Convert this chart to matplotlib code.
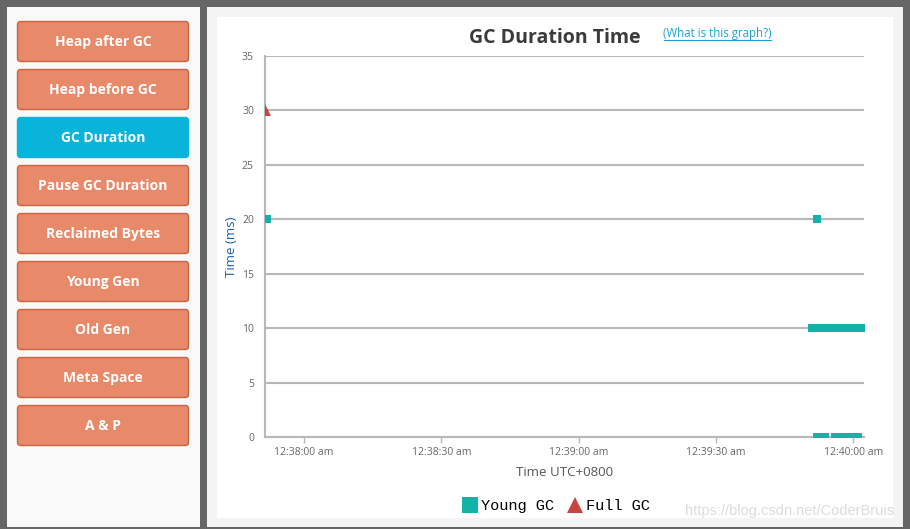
import matplotlib
matplotlib.use("Agg")
import matplotlib.pyplot as plt
import matplotlib.dates as mdates
import matplotlib.ticker as ticker
from matplotlib.patches import FancyBboxPatch, Rectangle
from matplotlib.lines import Line2D
import pandas as pd

# menu on the left
menu_items = ["Heap after GC", "Heap before GC", "GC Duration", "Pause GC Duration",
              "Reclaimed Bytes", "Young Gen", "Old Gen", "Meta Space", "A & P"]
active_item = "GC Duration"

# GC events (time of day, duration in ms)
young_times = ["00:37:52.0", "00:39:52.0",
               "00:39:51.0", "00:39:52.0", "00:39:53.0", "00:39:54.0", "00:39:55.0", "00:39:56.0",
               "00:39:57.0", "00:39:58.0", "00:39:59.0", "00:40:00.0", "00:40:01.0", "00:40:02.0",
               "00:39:52.0", "00:39:53.0", "00:39:53.7", "00:39:56.0", "00:39:57.0", "00:39:58.0",
               "00:39:59.0", "00:40:00.0", "00:40:01.0"]
young_ms = [20, 20,
            10, 10, 10, 10, 10, 10, 10, 10, 10, 10, 10, 10,
            0, 0, 0, 0, 0, 0, 0, 0, 0]
full_times = ["00:37:51.5"]
full_ms = [30]

x_range = ["00:37:51.5", "00:40:02.3"]
x_ticks = ["00:38:00", "00:38:30", "00:39:00", "00:39:30", "00:40:00"]
y_ticks = [0, 5, 10, 15, 20, 25, 30, 35]

young_color = "#14b1a6"
full_color = "#c9453d"
grid_color = "#b8b8b8"


def to_dt(values):
    return pd.to_datetime(["2020-01-01 " + v for v in values])


W, H = 910, 529
fig = plt.figure(figsize=(W / 100, H / 100), dpi=100)
fig.patch.set_facecolor("#666666")

# background layer in pixel coordinates
bg = fig.add_axes([0, 0, 1, 1], zorder=0)
bg.set_xlim(0, W)
bg.set_ylim(H, 0)
bg.axis("off")
bg.add_patch(Rectangle((7, 7), 193, 520, facecolor="#f9f9f9", edgecolor="none"))
bg.add_patch(Rectangle((207, 7), 696, 520, facecolor="#f4f4f4", edgecolor="none"))
bg.add_patch(Rectangle((217, 17), 676, 501, facecolor="white", edgecolor="none"))

for i, item in enumerate(menu_items):
    top = 21 + i * 48
    is_active = item == active_item
    face = "#0ab3da" if is_active else "#e8896a"
    edge = "#0ab3da" if is_active else "#c9653f"
    bg.add_patch(FancyBboxPatch((17.5, top + 0.5), 171, 40, boxstyle="round,pad=0,rounding_size=3",
                                facecolor=face, edgecolor=edge, linewidth=1))
    bg.text(103, top + 21, item, ha="center", va="center", color="white",
            fontsize=10, fontweight="bold", family="Open Sans")

# title and link
bg.text(555, 38, "GC Duration Time", ha="center", va="center", fontsize=14,
        fontweight="bold", color="#3a3a3a", family="Open Sans")
bg.text(717, 33, "(What is this graph?)", ha="center", va="center", fontsize=8.3,
        color="#1aa3d6", family="Open Sans")
bg.plot([664, 771], [40, 40], color="#1aa3d6", lw=0.8)

# watermark
bg.text(790, 511, "https://blog.csdn.net/CoderBruis", ha="center", va="center",
        fontsize=10.5, color="#dcdcdc", family="Liberation Sans")

# chart
ax = fig.add_axes([265 / W, 1 - 437 / H, 599 / W, 381 / H], zorder=2)
ax.set_facecolor("none")

ax.plot(to_dt(young_times), young_ms, linestyle="none", marker="s", markersize=5.8,
        color=young_color, markeredgewidth=0, zorder=3)
ax.plot(to_dt(full_times), full_ms, linestyle="none", marker="^", markersize=9,
        color=full_color, markeredgewidth=0, zorder=3)

xr = to_dt(x_range)
ax.set_xlim(xr[0], xr[1])
ax.set_ylim(0, 35)
ax.set_yticks(y_ticks)
ax.set_xticks(mdates.date2num(to_dt(x_ticks)))
ax.xaxis.set_major_formatter(ticker.FuncFormatter(
    lambda v, pos: mdates.num2date(v).strftime("%I:%M:%S ").lstrip() + mdates.num2date(v).strftime("%p").lower()))

ax.grid(axis="y", color=grid_color, linewidth=1.5, zorder=1)
for side in ["top", "right"]:
    ax.spines[side].set_visible(False)
for side in ["left", "bottom"]:
    ax.spines[side].set_color(grid_color)
    ax.spines[side].set_linewidth(1.5)

ax.tick_params(axis="y", length=0, pad=8, labelsize=7.5, labelcolor="#666666")
ax.tick_params(axis="x", length=4, width=1, color=grid_color, pad=3, labelsize=7.5,
               labelcolor="#666666")
for lbl in ax.get_xticklabels() + ax.get_yticklabels():
    lbl.set_family("Open Sans")

ax.set_ylabel("Time (ms)", color="#1c5ea8", fontsize=9.5, family="Open Sans", labelpad=3)
ax.set_xlabel("Time UTC+0800", color="#555555", fontsize=9.5, family="Open Sans", labelpad=6)

handles = [
    Line2D([], [], linestyle="none", marker="s", markersize=11, color=young_color, markeredgewidth=0),
    Line2D([], [], linestyle="none", marker="^", markersize=12, color=full_color, markeredgewidth=0),
]
fig.legend(handles, ["Young GC", "Full GC"], loc="center", bbox_to_anchor=(557 / W, 1 - 506 / H),
           ncol=2, frameon=False, handlelength=0.8, handletextpad=0.3, columnspacing=1.0,
           prop={"family": "Liberation Mono", "size": 11})

fig.savefig("out.png", dpi=100, facecolor=fig.get_facecolor())
